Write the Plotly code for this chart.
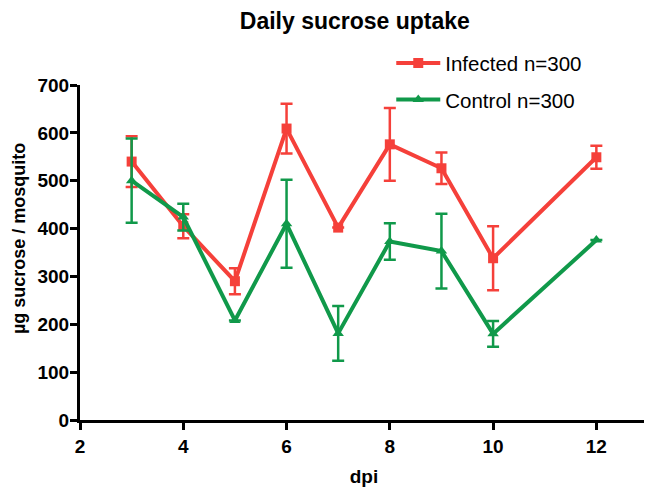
import plotly.graph_objects as go

dpi_infected = [3, 4, 5, 6, 7, 8, 9, 10, 12]
infected_mean = [540, 405, 290, 609, 402, 576, 526, 338, 549]
infected_err = [53, 25, 27, 52, None, 76, 33, 67, 24]

dpi_control = [3, 4, 5, 6, 7, 8, 9, 10, 12]
control_mean = [500, 424, 208, 410, 181, 373, 353, 180, 376]
control_err = [88, 28, None, 92, 57, 38, 78, 27, None]

x_ticks = [2, 4, 6, 8, 10, 12]
y_ticks = [0, 100, 200, 300, 400, 500, 600, 700]

RED = "#f5403a"
GREEN = "#10994a"
FONT = "Liberation Sans"

fig = go.Figure()
fig.add_trace(go.Scatter(
    x=dpi_infected, y=infected_mean, name="Infected n=300",
    mode="lines+markers",
    line=dict(color=RED, width=4),
    marker=dict(symbol="square", size=10, color=RED),
    error_y=dict(type="data", array=infected_err, color=RED, thickness=2.5, width=6),
    legendgroup="a",
    cliponaxis=False,
))
fig.add_trace(go.Scatter(
    x=dpi_control, y=control_mean, name="Control n=300",
    mode="lines+markers",
    line=dict(color=GREEN, width=4),
    marker=dict(symbol="triangle-up", size=10, color=GREEN),
    error_y=dict(type="data", array=control_err, color=GREEN, thickness=2.5, width=6),
    legendgroup="b",
    cliponaxis=False,
))

fig.update_layout(
    width=652, height=495,
    margin=dict(l=72, r=12, t=77, b=83, autoexpand=False),
    paper_bgcolor="white", plot_bgcolor="white",
    title=dict(text="<b>Daily sucrose uptake</b>", x=0.532, xref="container", xanchor="center",
               y=0.991, yref="container", yanchor="top",
               font=dict(family=FONT, size=23, color="black")),
    legend=dict(
        x=0.548, y=1.125, xref="paper", yref="paper",
        xanchor="left", yanchor="top",
        font=dict(family=FONT, size=20.5, color="black"),
        bgcolor="rgba(0,0,0,0)", borderwidth=0, itemwidth=44,
        tracegroupgap=7,
    ),
    xaxis=dict(
        range=[2, 13.0], tickvals=x_ticks, ticktext=[str(v) for v in x_ticks],
        showline=True, linecolor="black", linewidth=3,
        ticks="outside", ticklen=7, tickwidth=3, tickcolor="black",
        showgrid=False, zeroline=False,
        tickfont=dict(family=FONT, size=19, color="black", weight="bold"),
        title=dict(text="<b>dpi</b>", font=dict(family=FONT, size=19, color="black"), standoff=14),
    ),
    yaxis=dict(
        range=[0, 700], tickvals=y_ticks, ticktext=[str(v) for v in y_ticks],
        showline=True, linecolor="black", linewidth=3,
        ticks="outside", ticklen=7, tickwidth=3, tickcolor="black",
        ticklabelstandoff=-3,
        showgrid=False, zeroline=False,
        tickfont=dict(family=FONT, size=19, color="black", weight="bold"),
    ),
    annotations=[dict(
        text="<b>µg sucrose / mosquito</b>", textangle=-90,
        xref="paper", yref="paper", x=-0.1074, y=0.543,
        xanchor="center", yanchor="middle", showarrow=False,
        font=dict(family=FONT, size=18, color="black"),
    )],
)

fig.write_html("out.html")
